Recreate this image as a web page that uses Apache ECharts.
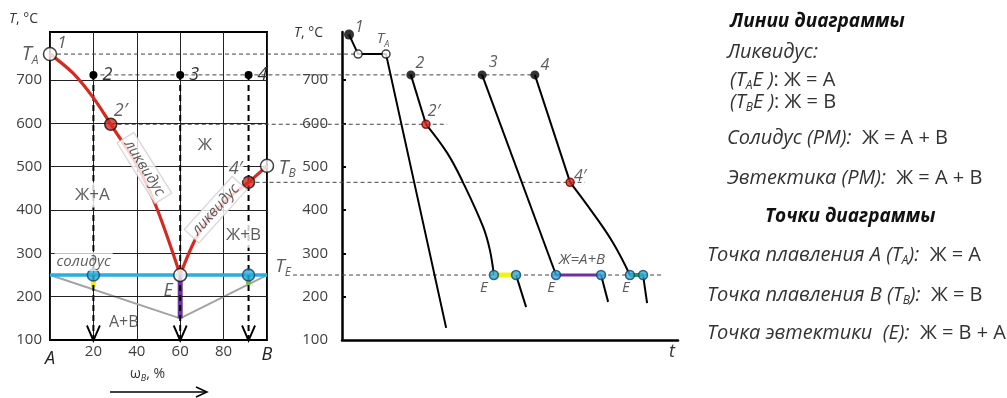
<!DOCTYPE html>
<html><head><meta charset="utf-8">
<script src="https://cdn.jsdelivr.net/npm/echarts@6/dist/echarts.min.js"></script>
<style>html,body{margin:0;padding:0;background:#fff}#c{width:1007px;height:398px}</style>
</head><body><div id="c"></div>
<script>
// ---------------- data ----------------
const tempTicks = [100, 200, 300, 400, 500, 600, 700];
const compTicks = [0, 20, 40, 60, 80, 100];
const T_A = 760, T_B = 502, T_E = 250, C_E = 60, T_EUT_LOW = 150;
const alloyComps = [20, 60, 91.5];
const alloyNames = ['2', '3', '4'];
const alloyStartT = 712;
const liquidusA = [[0, 760], [10.6, 716], [20, 659], [28, 598], [40, 504], [49, 407], [60, 250]];
const liquidusB = [[60, 250], [66.8, 331], [73.7, 384], [83, 430], [91.5, 464], [100, 502]];
const point2p = [28, 598];
const point4p = [91.5, 464];
const solidusLine = [[0, 250], [100, 250]];
const boundaryLine = [[0, 250], [60, 150], [100, 250]];
const eutBar = [[60, 250], [60, 150]];
const bar2 = [[20, 250], [20, 222]];
const bar4 = [[91.5, 250], [91.5, 228]];
const solidusDots = [[20, 250], [91.5, 250]];

// cooling curves: [time (% of axis), temperature]
const cool1 = [[2.1, 805], [4.8, 760], [13.1, 760], [31, 128]];
const cool2Liquid = [[20.5, 712], [25, 598]];
const cool2Cryst = [[25, 598], [31.3, 532], [36, 464], [42, 361], [44, 308], [45.2, 250]];
const cool2Eut = [[45.2, 250], [51.8, 250]];
const cool2Solid = [[51.8, 250], [54.8, 176]];
const cool3Liquid = [[41.7, 712], [63.7, 250]];
const cool3Eut = [[63.7, 250], [77.1, 250]];
const cool3Solid = [[77.1, 250], [79.2, 188]];
const cool4Liquid = [[57.4, 712], [67.9, 464]];
const cool4Cryst = [[67.9, 464], [74.7, 393], [80.7, 324], [85.7, 250]];
const cool4Eut = [[85.7, 250], [89.6, 250]];
const cool4Solid = [[89.6, 250], [90.8, 185]];

// guide levels: [temperature, start composition (left), end time (right)]
const guides = [[760, 0, 4.8], [712, 20, 57.4], [598, 28, 31.3], [464, 91.5, 72.3], [250, 112, 95.2]];

// ---------------- layout ----------------
const L = {x: 50, y: 32, w: 217, h: 308};
const R = {x: 342, y: 32, w: 336, h: 308};
const YMIN = 100, YMAX = 811;
const compToT = c => (L.x + c / 100 * L.w - R.x) / R.w * 100;
const FONT = 'Open Sans';
const TXT = '#333';

function richSet(size, boldSize) {
  return {
    i: {fontStyle: 'italic', fontWeight: 'normal', fontSize: size, color: TXT, fontFamily: FONT, lineHeight: size + 4},
    s: {fontStyle: 'italic', fontWeight: 'normal', fontSize: Math.round(size * 0.62), color: TXT, fontFamily: FONT, verticalAlign: 'bottom', lineHeight: Math.round(size * 0.55)},
    n: {fontStyle: 'normal', fontWeight: 'normal', fontSize: size, color: TXT, fontFamily: FONT, lineHeight: size + 4},
    b: {fontStyle: 'italic', fontWeight: 'bold', fontSize: boldSize || size + 1, color: '#111', fontFamily: FONT, lineHeight: size + 4}
  };
}
function lbl(text, dx, dy, size, extra) {
  return Object.assign({show: true, position: 'inside', offset: [dx, dy], formatter: text,
    rich: richSet(size), fontFamily: FONT, fontSize: size, color: TXT}, extra || {});
}
function lineS(g, data, color, width, extra) {
  return Object.assign({type: 'line', xAxisIndex: g, yAxisIndex: g, data: data, symbol: 'none',
    silent: true, lineStyle: {color: color, width: width}, z: 3}, extra || {});
}
function textAt(g, coord, text, size, extra) {
  return {type: 'scatter', xAxisIndex: g, yAxisIndex: g, silent: true, z: 8,
    symbolSize: 1, itemStyle: {color: 'rgba(0,0,0,0)'},
    data: [{value: coord, label: lbl(text, 0, 0, size, extra)}]};
}
function dotItem(coord, size, fill, border, label) {
  const o = {value: coord, symbol: 'circle', symbolSize: size,
    itemStyle: {color: fill, borderColor: border, borderWidth: border ? 1.5 : 0}};
  if (label) o.label = label;
  return o;
}

const BLUE = '#29aee0', BLUE_B = '#1d3f63', RED = '#d42a1f', WHITE = '#ffffff';

const series = [];
// ---- left diagram (grid 0) ----
series.push(lineS(0, boundaryLine, '#a3a3a3', 2, {z: 2,
  markLine: {silent: true, symbol: 'none', label: {show: false}, animation: false,
    lineStyle: {color: '#222', width: 1, type: 'solid'},
    data: tempTicks.filter(v => v > YMIN).map(v => ({yAxis: v}))}}));
series.push(lineS(0, eutBar, '#7030a0', 5, {z: 3}));
series.push(lineS(0, bar2, '#f2ee1c', 5, {z: 3}));
series.push(lineS(0, bar4, '#74c043', 5, {z: 3}));
series.push(lineS(0, solidusLine, BLUE, 3.5, {z: 3}));
alloyComps.forEach((c, i) => {
  series.push({type: 'line', xAxisIndex: 0, yAxisIndex: 0, z: 4, silent: true,
    lineStyle: {color: '#000', width: 2, type: [6, 4]},
    data: [
      {value: [c, alloyStartT], symbol: 'circle', symbolSize: 8, itemStyle: {color: '#000'},
        label: lbl('{i|' + alloyNames[i] + '}', 14, 0, 18)},
      {value: [c, YMIN], symbol: 'path://M0,0L7,14L14,0', symbolSize: [13, 15], symbolOffset: [0, -7],
        itemStyle: {color: 'none', borderColor: '#000', borderWidth: 2}}
    ]});
});
series.push(lineS(0, liquidusA, RED, 3.2, {smooth: 0.35, z: 5}));
series.push(lineS(0, liquidusB, RED, 3.2, {smooth: 0.35, z: 5}));
series.push({type: 'scatter', xAxisIndex: 0, yAxisIndex: 0, z: 6, silent: true, data: [
  dotItem(solidusDots[0], 12, BLUE, BLUE_B),
  dotItem(solidusDots[1], 12, BLUE, BLUE_B),
  dotItem(point2p, 12, RED, '#111', lbl('{i|2′}', 10, -13, 18)),
  dotItem(point4p, 12, RED, '#111', lbl('{i|4′}', -13, -13, 18, {backgroundColor: '#fff', padding: [0, 1]})),
  dotItem([0, T_A], 13, WHITE, '#111', lbl('{i|T}{s|A}', -20, 0, 20)),
  dotItem([100, T_B], 13, WHITE, '#111', lbl('{i|T}{s|B}', 20, 2, 20)),
  dotItem([C_E, T_E], 13, WHITE, '#111')
]});
series.push(textAt(0, [0, T_A], '{i|1}', 17, {offset: [12, -11]}));
series.push(textAt(0, [100, T_E], '{i|T}{s|E}', 19, {offset: [16, -8]}));
series.push(textAt(0, [54.4, 213], '{i|E}', 18));
series.push(textAt(0, [71.4, 550], '{n|Ж}', 17));
series.push(textAt(0, [19.5, 435], '{n|Ж+А}', 17, {backgroundColor: '#fff', padding: [2, 1]}));
series.push(textAt(0, [89.2, 342], '{n|Ж+В}', 17, {backgroundColor: '#fff', padding: [2, 1]}));
series.push(textAt(0, [34, 141], '{n|А+В}', 16));
series.push(textAt(0, [15.5, 281], '{i|солидус}', 15, {backgroundColor: 'rgba(255,255,255,0.9)', padding: [0, 2]}));
series.push(textAt(0, [43.5, 497], '{i|ликвидус}', 15, {rotate: -58, backgroundColor: '#fff', borderColor: '#c8c8c8', borderWidth: 1, padding: [0, 4]}));
series.push(textAt(0, [76.3, 401], '{i|ликвидус}', 15, {rotate: 48, backgroundColor: '#fff', borderColor: '#c8c8c8', borderWidth: 1, padding: [0, 4]}));

// ---- right chart (grid 1) ----
[cool1, cool2Liquid, cool2Solid, cool3Liquid, cool3Solid, cool4Liquid, cool4Solid].forEach(d =>
  series.push(lineS(1, d, '#000', 2, {z: 3})));
series.push(lineS(1, cool2Cryst, '#000', 2, {smooth: 0.4, z: 3}));
series.push(lineS(1, cool4Cryst, '#000', 2, {smooth: 0.4, z: 3}));
series.push(lineS(1, cool2Eut, '#f5ef1a', 5, {z: 3}));
series.push(lineS(1, cool3Eut, '#7030a0', 3, {z: 3}));
series.push(lineS(1, cool4Eut, '#1fa04a', 4, {z: 3}));
series.push({type: 'scatter', xAxisIndex: 1, yAxisIndex: 1, z: 6, silent: true, data: [
  dotItem(cool1[0], 10, '#000', null, lbl('{i|1}', 10, -7, 16)),
  dotItem(cool1[1], 8, WHITE, '#111'),
  dotItem(cool1[2], 8, WHITE, '#111', lbl('{i|T}{s|A}', -3, -15, 15)),
  dotItem(cool2Liquid[0], 9, '#000', null, lbl('{i|2}', 9, -11, 16)),
  dotItem(cool2Cryst[0], 8, RED, '#6b0000', lbl('{i|2′}', 8, -13, 16)),
  dotItem(cool3Liquid[0], 9, '#000', null, lbl('{i|3}', 11, -12, 16)),
  dotItem(cool4Liquid[0], 9, '#000', null, lbl('{i|4}', 10, -9, 16)),
  dotItem(cool4Cryst[0], 8, RED, '#6b0000', lbl('{i|4′}', 10, -6, 16)),
  dotItem(cool2Eut[0], 9, BLUE, BLUE_B, lbl('{i|E}', -10, 13, 15)),
  dotItem(cool2Eut[1], 9, BLUE, BLUE_B),
  dotItem(cool3Eut[0], 9, BLUE, BLUE_B, lbl('{i|E}', -5, 13, 15)),
  dotItem(cool3Eut[1], 9, BLUE, BLUE_B),
  dotItem(cool4Eut[0], 9, BLUE, BLUE_B, lbl('{i|E}', -4, 13, 15)),
  dotItem(cool4Eut[1], 9, BLUE, BLUE_B)
]});
series.push(textAt(1, [71.4, 285], '{i|Ж=А+В}', 15));

// ---- guides across both charts (grid 2) ----
guides.forEach(g => series.push(lineS(2, [[compToT(g[1]), g[0]], [g[2], g[0]]], '#444', 1, {z: 2,
  lineStyle: {color: '#444', width: 1, type: [4, 3]}})));

// ---------------- free text ----------------
const rs20 = richSet(20, 19);
const legendLines = [
  ['{b|Линии диаграммы}', 730, 10],
  ['{i|Ликвидус:}', 727, 40],
  ['{i|(T}{s|A}{i|E )}{n|: Ж = А}', 730, 68],
  ['{i|(T}{s|B}{i|E )}{n|: Ж = В}', 730, 90],
  ['{i|Солидус (РМ):}{n|  Ж = А + В}', 727, 126],
  ['{i|Эвтектика (РМ):}{n|  Ж = А + В}', 727, 166],
  ['{b|Точки диаграммы}', 765, 205],
  ['{i|Точка плавления А (T}{s|A}{i|):}{n|  Ж = А}', 707, 243],
  ['{i|Точка плавления В (T}{s|B}{i|):}{n|  Ж = В}', 707, 283],
  ['{i|Точка эвтектики  (E):}{n|  Ж = В + А}', 707, 321]
];
const titles = legendLines.map(l => ({text: l[0], left: l[1], top: l[2], padding: 0,
  textStyle: {rich: rs20, fontSize: 20, fontWeight: 'normal', fontFamily: FONT}}));
const rs14 = richSet(14);
titles.push({text: '{i|T}{n|, °C}', left: 9, top: 10, padding: 0, textStyle: {rich: rs14, fontWeight: 'normal'}});
titles.push({text: '{i|T}{n|, °C}', left: 294, top: 24, padding: 0, textStyle: {rich: rs14, fontWeight: 'normal'}});
titles.push({text: '{n|ω}{s|B}{n|, %}', left: 130, top: 365, padding: 0, textStyle: {rich: richSet(14), fontWeight: 'normal'}});
titles.push({text: '{i|t}', left: 669, top: 341, padding: 0, textStyle: {rich: richSet(18), fontWeight: 'normal'}});

const axisLabelStyle = {color: '#404040', fontSize: 15, fontFamily: FONT};

const option = {
  animation: false,
  backgroundColor: '#fff',
  title: titles,
  grid: [
    {left: L.x, top: L.y, width: L.w, height: L.h, show: true, borderColor: '#000', borderWidth: 2,
      backgroundColor: 'transparent', containLabel: false, outerBoundsMode: 'none'},
    {left: R.x, top: R.y, width: R.w, height: R.h, containLabel: false, outerBoundsMode: 'none'},
    {left: L.x, top: L.y, width: R.x + R.w - L.x, height: L.h, containLabel: false, outerBoundsMode: 'none'}
  ],
  xAxis: [
    {gridIndex: 0, type: 'value', min: 0, max: 100, interval: 20,
      axisLine: {show: false}, axisTick: {show: false},
      splitLine: {show: true, lineStyle: {color: '#222', width: 1}},
      axisLabel: Object.assign({}, axisLabelStyle, {margin: 4, customValues: compTicks,
        formatter: v => v === 0 ? '{a|A}' : (v === 100 ? '{e|B}' : String(v)),
        rich: {a: {fontStyle: 'italic', fontSize: 18, color: '#222', fontFamily: FONT, padding: [6, 0, 0, 0]},
               e: {fontStyle: 'italic', fontSize: 18, color: '#222', fontFamily: FONT, padding: [2, 0, 0, 0]}}})},
    {gridIndex: 1, type: 'value', min: 0, max: 100,
      axisLine: {show: true, onZero: false, lineStyle: {color: '#000', width: 2.5}},
      axisTick: {show: false}, axisLabel: {show: false}, splitLine: {show: false}},
    {gridIndex: 2, type: 'value', min: compToT(0), max: 100, show: false, splitLine: {show: false}}
  ],
  yAxis: [
    {gridIndex: 0, type: 'value', min: YMIN, max: YMAX, interval: 100,
      axisLine: {show: false}, axisTick: {show: false}, splitLine: {show: false},
      axisLabel: Object.assign({}, axisLabelStyle, {margin: 8, customValues: tempTicks,
        formatter: v => v <= 700 ? String(v) : ''})},
    {gridIndex: 1, type: 'value', min: YMIN, max: YMAX, interval: 100,
      axisLine: {show: true, onZero: false, lineStyle: {color: '#000', width: 2.5}},
      axisTick: {show: true, inside: true, length: 4, customValues: tempTicks.filter(v => v > YMIN),
        lineStyle: {color: '#000', width: 2}},
      splitLine: {show: false},
      axisLabel: Object.assign({}, axisLabelStyle, {margin: 14, customValues: tempTicks,
        formatter: v => v <= 700 ? String(v) : ''})},
    {gridIndex: 2, type: 'value', min: YMIN, max: YMAX, show: false, splitLine: {show: false}}
  ],
  graphic: [
    {type: 'line', shape: {x1: 110, y1: 392, x2: 206, y2: 392}, style: {stroke: '#000', lineWidth: 1.5}},
    {type: 'polyline', shape: {points: [[196, 387], [207, 392], [196, 397]]}, style: {stroke: '#000', lineWidth: 1.5, fill: null}}
  ],
  series: series
};

const chart = echarts.init(document.getElementById('c'), null, {renderer: 'canvas'});
chart.setOption(option);
</script>
</body></html>
